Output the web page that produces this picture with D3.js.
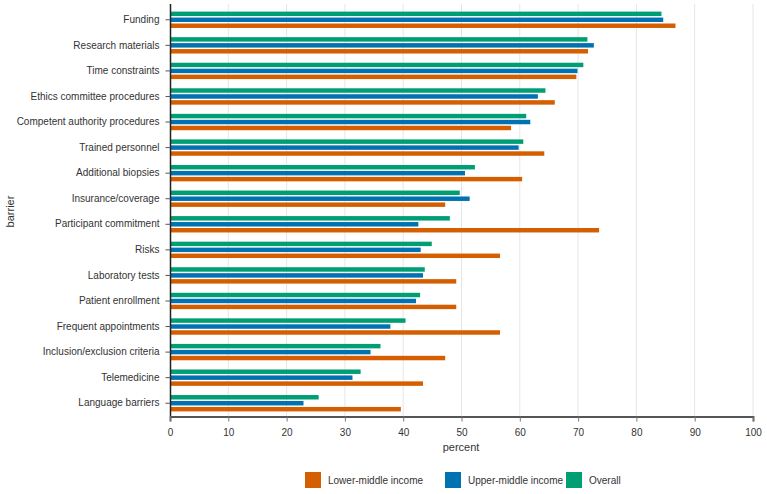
<!DOCTYPE html>
<html>
<head>
<meta charset="utf-8">
<script src="https://cdn.jsdelivr.net/npm/d3@7"></script>
<style>
  body { margin: 0; background: #fff; }
  text { font-family: "Liberation Sans", Arial, sans-serif; fill: #333; }
</style>
</head>
<body>
<svg class="chart"></svg>
<script>
const barriers = [
  'Funding', 'Research materials', 'Time constraints', 'Ethics committee procedures',
  'Competent authority procedures', 'Trained personnel', 'Additional biopsies',
  'Insurance/coverage', 'Participant commitment', 'Risks', 'Laboratory tests',
  'Patient enrollment', 'Frequent appointments', 'Inclusion/exclusion criteria',
  'Telemedicine', 'Language barriers'
]

const overall = [84.3, 71.6, 70.9, 64.4, 61.1, 60.6, 52.3, 49.7, 48.0, 44.9, 43.7, 42.9, 40.4, 36.1, 32.7, 25.5]
const upperMiddle = [84.6, 72.7, 69.9, 63.1, 61.8, 59.8, 50.6, 51.4, 42.6, 43.0, 43.4, 42.2, 37.8, 34.4, 31.3, 22.9]
const lowerMiddle = [86.7, 71.7, 69.7, 66.0, 58.5, 64.2, 60.4, 47.2, 73.6, 56.6, 49.1, 49.1, 56.6, 47.2, 43.4, 39.6]

const xTicks = [0, 10, 20, 30, 40, 50, 60, 70, 80, 90, 100]

// legend order differs from the bar order inside a group
const series = [
  { key: 'overall', name: 'Overall', values: overall, color: '#009E73' },
  { key: 'upper', name: 'Upper-middle income', values: upperMiddle, color: '#0072B2' },
  { key: 'lower', name: 'Lower-middle income', values: lowerMiddle, color: '#D55E00' }
]
const legendOrder = ['lower', 'upper', 'overall']

const W = 767, H = 494
const margin = { top: 7, right: 13, bottom: 78, left: 170 }
const width = W - margin.left - margin.right,
      height = H - margin.top - margin.bottom

const svg = d3.select('.chart')
  .attr('width', W)
  .attr('height', H)

const chart = svg.append('g')
  .attr('transform', `translate(${margin.left}, ${margin.top})`)

const x = d3.scaleLinear()
  .domain([0, 100])
  .range([0, width - 1])

const y = d3.scaleBand()
  .domain(barriers)
  .range([0, height])
  .paddingInner(0.36)
  .paddingOuter(0.18)

const ySub = d3.scaleBand()
  .domain(series.map(s => s.key))
  .range([0, y.bandwidth()])
  .paddingInner(0.25)

// grid
chart.append('g')
  .selectAll('line')
  .data(xTicks.slice(1))
  .enter()
  .append('line')
  .attr('x1', d => x(d))
  .attr('x2', d => x(d))
  .attr('y1', -3)
  .attr('y2', height)
  .attr('stroke', '#e6e6e6')
  .attr('stroke-width', 1)

// bars
const rows = barriers.map((b, i) => ({
  barrier: b,
  vals: series.map(s => ({ key: s.key, value: s.values[i], color: s.color }))
}))

const group = chart.selectAll('.row')
  .data(rows)
  .enter()
  .append('g')
  .attr('class', 'row')
  .attr('transform', d => `translate(0, ${y(d.barrier)})`)

group.selectAll('rect')
  .data(d => d.vals)
  .enter()
  .append('rect')
  .attr('x', 1)
  .attr('y', d => ySub(d.key))
  .attr('width', d => x(d.value) - 1)
  .attr('height', ySub.bandwidth())
  .attr('fill', d => d.color)

// y axis
const yAxis = d3.axisLeft(y).tickSize(5).tickPadding(6)
const gy = chart.append('g')
  .attr('transform', 'translate(0.5, 0)')
  .call(yAxis)
gy.select('.domain').attr('d', `M0,-3V${height}`).attr('stroke', '#222').attr('stroke-width', 1.5)
gy.selectAll('.tick line').attr('stroke', '#555')
gy.selectAll('.tick text').style('font-size', '10px').attr('fill', '#333')

// x axis
const xAxis = d3.axisBottom(x).tickValues(xTicks).tickSize(5).tickPadding(7)
const gx = chart.append('g')
  .attr('transform', `translate(0, ${height + 0.5})`)
  .call(xAxis)
gx.select('.domain').attr('stroke', '#555').attr('stroke-width', 2)
gx.selectAll('.tick line').attr('stroke', '#777')
gx.selectAll('.tick text').style('font-size', '10px').attr('fill', '#444')

// axis titles
chart.append('text')
  .attr('x', width / 2 - 1)
  .attr('y', height + 35)
  .attr('text-anchor', 'middle')
  .style('font-size', '11px')
  .text('percent')

svg.append('text')
  .attr('transform', `translate(14, ${margin.top + height / 2}) rotate(-90)`)
  .attr('text-anchor', 'middle')
  .style('font-size', '11px')
  .text('barrier')

// legend
const legendX = [305, 445, 566]
const legend = svg.append('g')
  .selectAll('g')
  .data(legendOrder.map(k => series.find(s => s.key === k)))
  .enter()
  .append('g')
  .attr('transform', (d, i) => `translate(${legendX[i]}, 472)`)

legend.append('rect')
  .attr('width', 16)
  .attr('height', 16)
  .attr('fill', d => d.color)

legend.append('text')
  .attr('x', 23)
  .attr('y', 8)
  .attr('dy', '0.35em')
  .style('font-size', '10px')
  .text(d => d.name)
</script>
</body>
</html>
